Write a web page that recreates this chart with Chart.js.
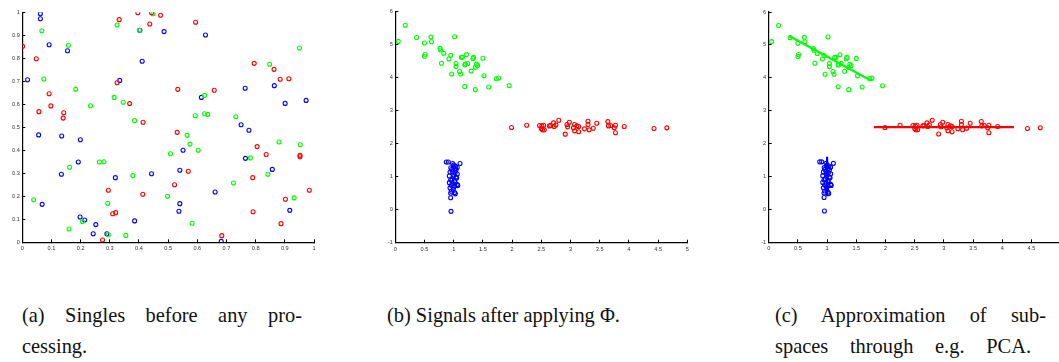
<!DOCTYPE html>
<html>
<head>
<meta charset="utf-8">
<script src="https://cdn.jsdelivr.net/npm/chart.js@4.4.1/dist/chart.umd.min.js"></script>
<style>
  html, body { margin: 0; padding: 0; width: 1059px; height: 362px; overflow: hidden; background: #fff; }
  canvas { position: absolute; }
  .cap { position: absolute; font-family: "Liberation Serif", "Times New Roman", serif; font-size: 20.4px; color: #111; line-height: 30px; white-space: nowrap; }
  .just { text-align: justify; text-align-last: justify; white-space: normal; }
</style>
</head>
<body>
<canvas id="pa" width="330" height="262" style="left:0px;top:0px"></canvas>
<canvas id="pb" width="330" height="262" style="left:370px;top:0px"></canvas>
<canvas id="pc" width="340" height="262" style="left:740px;top:0px"></canvas>

<div class="cap just" style="left:22px;top:300px;width:280px">(a) Singles before any pro-</div>
<div class="cap" style="left:22px;top:331px">cessing.</div>
<div class="cap" style="left:387px;top:300px">(b) Signals after applying Φ.</div>
<div class="cap just" style="left:775px;top:300px;width:271px">(c) Approximation of sub-</div>
<div class="cap just" style="left:775px;top:331px;width:256px">spaces through e.g. PCA.</div>

<script>
// (a) raw signals in the unit square
const redA = [
  [0.001,0.852],[0.048,0.798],[0.092,0.646],[0.098,0.593],[0.057,0.568],[0.142,0.563],
  [0.140,0.540],[0.368,0.603],[0.325,0.694],[0.414,0.522],[0.332,0.968],[0.396,0.998],
  [0.443,0.998],[0.474,0.987],[0.437,0.949],[0.533,0.665],[0.531,0.478],[0.295,0.226],
  [0.413,0.209],[0.522,0.250],[0.310,0.124],[0.320,0.129],[0.275,0.010],[0.594,0.957],
  [0.795,0.778],[0.863,0.752],[0.884,0.709],[0.914,0.711],[0.658,0.661],[0.805,0.416],
  [0.836,0.382],[0.952,0.378],[0.952,0.372],[0.569,0.309],[0.790,0.281],[0.984,0.226],
  [0.902,0.187],[0.791,0.133],[0.887,0.081],[0.684,0.029]
];
const greenA = [
  [0.067,0.920],[0.158,0.857],[0.074,0.710],[0.183,0.665],[0.234,0.594],[0.315,0.630],
  [0.346,0.609],[0.385,0.529],[0.325,0.945],[0.448,0.994],[0.401,0.922],[0.508,0.385],
  [0.264,0.349],[0.280,0.350],[0.162,0.326],[0.379,0.290],[0.498,0.200],[0.039,0.185],
  [0.293,0.170],[0.206,0.090],[0.160,0.058],[0.295,0.033],[0.355,0.030],[0.950,0.845],
  [0.848,0.774],[0.625,0.639],[0.593,0.550],[0.625,0.559],[0.636,0.556],[0.732,0.546],
  [0.565,0.465],[0.575,0.427],[0.880,0.436],[0.953,0.424],[0.603,0.400],[0.782,0.367],
  [0.842,0.296],[0.724,0.258],[0.932,0.193],[0.582,0.083]
];
const blueA = [
  [0.062,0.994],[0.062,0.972],[0.092,0.859],[0.155,0.833],[0.018,0.707],[0.334,0.704],
  [0.403,0.922],[0.486,0.916],[0.411,0.787],[0.056,0.467],[0.135,0.462],[0.199,0.446],
  [0.192,0.349],[0.134,0.296],[0.443,0.298],[0.319,0.281],[0.540,0.313],[0.068,0.165],
  [0.540,0.168],[0.537,0.135],[0.198,0.110],[0.214,0.097],[0.385,0.093],[0.252,0.077],
  [0.243,0.037],[0.290,0.037],[0.628,0.901],[0.614,0.630],[0.764,0.670],[0.864,0.681],
  [0.901,0.604],[0.973,0.617],[0.750,0.511],[0.777,0.487],[0.551,0.400],[0.765,0.365],
  [0.857,0.317],[0.661,0.219],[0.917,0.139],[0.682,0.004]
];

// (b), (c) the same signals after the mapping Phi
const greenB = [
  [0.05,5.10],[0.17,5.59],[0.365,5.22],[0.50,5.05],[0.61,5.23],[0.62,5.09],[0.50,4.65],
  [0.51,4.71],[0.765,4.89],[0.776,4.84],[0.83,4.74],[0.79,4.44],[1.016,5.24],[0.92,4.57],
  [0.95,4.68],[0.965,4.11],[1.04,4.43],[1.04,4.34],[1.10,4.19],[1.12,4.11],[1.13,4.62],
  [1.15,4.62],[1.19,4.39],[1.20,4.41],[1.22,4.70],[1.24,4.43],[1.19,3.73],[1.30,4.20],
  [1.33,4.58],[1.34,4.62],[1.37,4.32],[1.39,4.41],[1.41,4.37],[1.37,3.64],[1.50,4.59],
  [1.52,4.06],[1.60,3.72],[1.73,3.97],[1.77,3.99],[1.95,3.76]
];
const redB = [
  [1.99,2.49],[2.25,2.56],[2.47,2.55],[2.51,2.54],[2.54,2.56],[2.50,2.46],[2.52,2.42],
  [2.55,2.42],[2.64,2.54],[2.66,2.56],[2.71,2.63],[2.72,2.52],[2.75,2.57],[2.80,2.71],
  [2.91,2.29],[2.94,2.58],[2.95,2.51],[2.98,2.65],[3.05,2.48],[3.07,2.58],[3.07,2.39],
  [3.11,2.54],[3.14,2.52],[3.14,2.36],[3.24,2.45],[3.30,2.68],[3.30,2.58],[3.32,2.42],
  [3.39,2.47],[3.45,2.62],[3.64,2.67],[3.65,2.54],[3.69,2.55],[3.75,2.48],[3.77,2.56],
  [3.77,2.33],[3.92,2.52],[4.43,2.46],[4.65,2.48]
];
const blueB = [
  [0.873,1.445],[0.908,1.445],[0.982,1.40],[1.108,1.40],[0.994,1.30],[1.03,1.32],[0.965,1.22],
  [1.04,1.20],[0.937,1.14],[1.022,1.12],[1.062,1.08],[0.925,1.02],[0.994,1.00],[1.051,0.96],
  [0.948,0.90],[1.017,0.88],[0.925,0.82],[0.982,0.80],[1.062,0.76],[0.959,0.74],[1.017,0.72],
  [0.937,0.66],[0.994,0.62],[0.959,0.56],[1.017,0.52],[0.948,0.50],[1.028,0.48],[0.948,0.36],
  [0.954,-0.05],[1.00,1.35],[1.03,1.25],[0.98,1.15],[1.00,1.05],[1.04,0.98],[0.97,0.93],
  [1.02,0.84],[0.95,1.27],[1.06,1.28],[0.99,0.68],[1.07,0.73]
];

// (c) principal directions fitted to each cluster
const greenFit = [[0.354,5.27],[1.75,3.92]];
const redFit = [[1.8,2.5],[4.2,2.5]];
const blueFit = [[1.0,0.4],[1.0,1.6]];

// tick values
const ticksUnit = [0,0.1,0.2,0.3,0.4,0.5,0.6,0.7,0.8,0.9,1];
const ticksPhiX = [0,0.5,1,1.5,2,2.5,3,3.5,4,4.5,5];
const ticksPhiY = [-1,0,1,2,3,4,5,6];

const RED = 'rgb(255,0,0)', GREEN = 'rgb(0,255,0)', BLUE = 'rgb(0,0,255)';

function toXY(arr) { return arr.map(p => ({ x: p[0], y: p[1] })); }

function pts(arr, color) {
  return { type: 'scatter', data: toXY(arr), borderColor: color, backgroundColor: 'rgba(0,0,0,0)',
           pointRadius: 2.0, pointBorderWidth: 1.1, pointHoverRadius: 2.0, showLine: false };
}
function fit(arr, color) {
  return { type: 'line', data: toXY(arr), borderColor: color, borderWidth: 2.2, pointRadius: 0,
           showLine: true, fill: false, tension: 0 };
}

function axis(ticks, min, max, fixed, isX) {
  return {
    type: 'linear', min: min, max: max,
    afterBuildTicks: s => { s.ticks = ticks.map(v => ({ value: v })); },
    afterFit: s => { if (isX) s.height = fixed; else s.width = fixed; },
    border: { display: true, color: '#000', width: 1.2 },
    grid: { drawOnChartArea: false, drawTicks: true, tickLength: -3, color: '#000', tickWidth: 1 },
    ticks: {
      autoSkip: false, maxRotation: 0, padding: isX ? 6 : 5.5,
      color: '#333', font: { family: 'Liberation Sans, Arial, sans-serif', size: 5.6 },
      callback: v => String(v)
    }
  };
}

function panel(id, datasets, xt, xmin, xmax, yt, ymin, ymax, yWidth, xHeight, pad) {
  new Chart(document.getElementById(id), {
    type: 'scatter',
    data: { datasets: datasets },
    options: {
      responsive: false, animation: false, events: [],
      layout: { padding: pad },
      plugins: { legend: { display: false }, tooltip: { enabled: false } },
      scales: {
        x: axis(xt, xmin, xmax, xHeight, true),
        y: axis(yt, ymin, ymax, yWidth, false)
      }
    }
  });
}

panel('pa', [pts(redA, RED), pts(greenA, GREEN), pts(blueA, BLUE)],
      ticksUnit, 0, 1, ticksUnit, 0, 1, 22.3, 19.7, { top: 12.3, right: 16, bottom: 0, left: 0 });

panel('pb', [pts(redB, RED), pts(greenB, GREEN), pts(blueB, BLUE)],
      ticksPhiX, 0, 5, ticksPhiY, -1, 6, 25.3, 19.3, { top: 11.7, right: 12.7, bottom: 0, left: 0 });

panel('pc', [fit(greenFit, GREEN), fit(redFit, RED), fit(blueFit, BLUE),
             pts(redB, RED), pts(greenB, GREEN), pts(blueB, BLUE)],
      ticksPhiX, 0, 5, ticksPhiY, -1, 6, 28.7, 19.7, { top: 12, right: 19.3, bottom: 0, left: 0 });
</script>
</body>
</html>
